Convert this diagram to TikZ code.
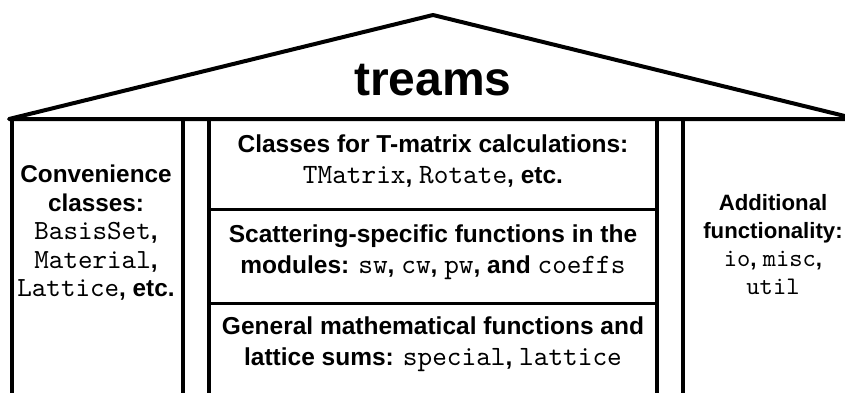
\documentclass[tikz,border=0pt]{standalone}
\usepackage{fontspec}
\setmainfont{Liberation Sans}
\setmonofont{lmmono10-regular.otf}[Scale=1.14]

\newcommand{\pymod}[1]{\textmd{\texttt{#1}}}

\begin{document}
\begin{tikzpicture}[
  x=1pt,
  y=-1pt,
  line join=round,
  wall/.style={line width=4pt},
  shelf/.style={line width=3pt},
  roofname/.style={font=\fontsize{48}{48}\selectfont\bfseries,inner sep=0pt},
  floortext/.style={align=center,inner sep=0pt,
    font=\fontsize{24.5}{30.5}\selectfont\bfseries},
  pillartext/.style={floortext,
    font=\fontsize{24.3}{28.5}\selectfont\bfseries}
]

\useasboundingbox (0,0) rectangle (845,392);
\clip (0,0) rectangle (845,392);

% ------------------------------------------------------------------
% Roof
% ------------------------------------------------------------------
\draw[wall] (9,119) -- (433,15) -- (857,119) -- cycle;
\node[roofname,anchor=base] (treams) at (433,95) {treams};

% ------------------------------------------------------------------
% Pillars
% ------------------------------------------------------------------
\draw[wall] (12,119) rectangle (183,400);
\draw[wall] (683,119) rectangle (854,400);

\node[pillartext] (convenience) at (96,233)
  {Convenience\\classes:\\\pymod{BasisSet},\\\pymod{Material},\\\pymod{Lattice}, etc.};
\node[pillartext,font=\fontsize{22.2}{28}\selectfont\bfseries] (additional) at (773,245)
  {Additional\\functionality:\\\pymod{io}, \pymod{misc},\\\pymod{util}};

% ------------------------------------------------------------------
% Middle floors
% ------------------------------------------------------------------
\draw[wall] (209,119) -- (209,400);
\draw[wall] (657,119) -- (657,400);
\draw[shelf] (209,209) -- (657,209);
\draw[shelf] (209,303) -- (657,303);

\node[floortext] (tmatrix) at (433,161)
  {Classes for T-matrix calculations:\\\pymod{TMatrix}, \pymod{Rotate}, etc.};
\node[floortext] (scattering) at (433,252)
  {Scattering-specific functions in the\\modules: \pymod{sw}, \pymod{cw}, \pymod{pw}, and \pymod{coeffs}};
\node[floortext] (general) at (433,344)
  {General mathematical functions and\\lattice sums: \pymod{special}, \pymod{lattice}};

\end{tikzpicture}
\end{document}
